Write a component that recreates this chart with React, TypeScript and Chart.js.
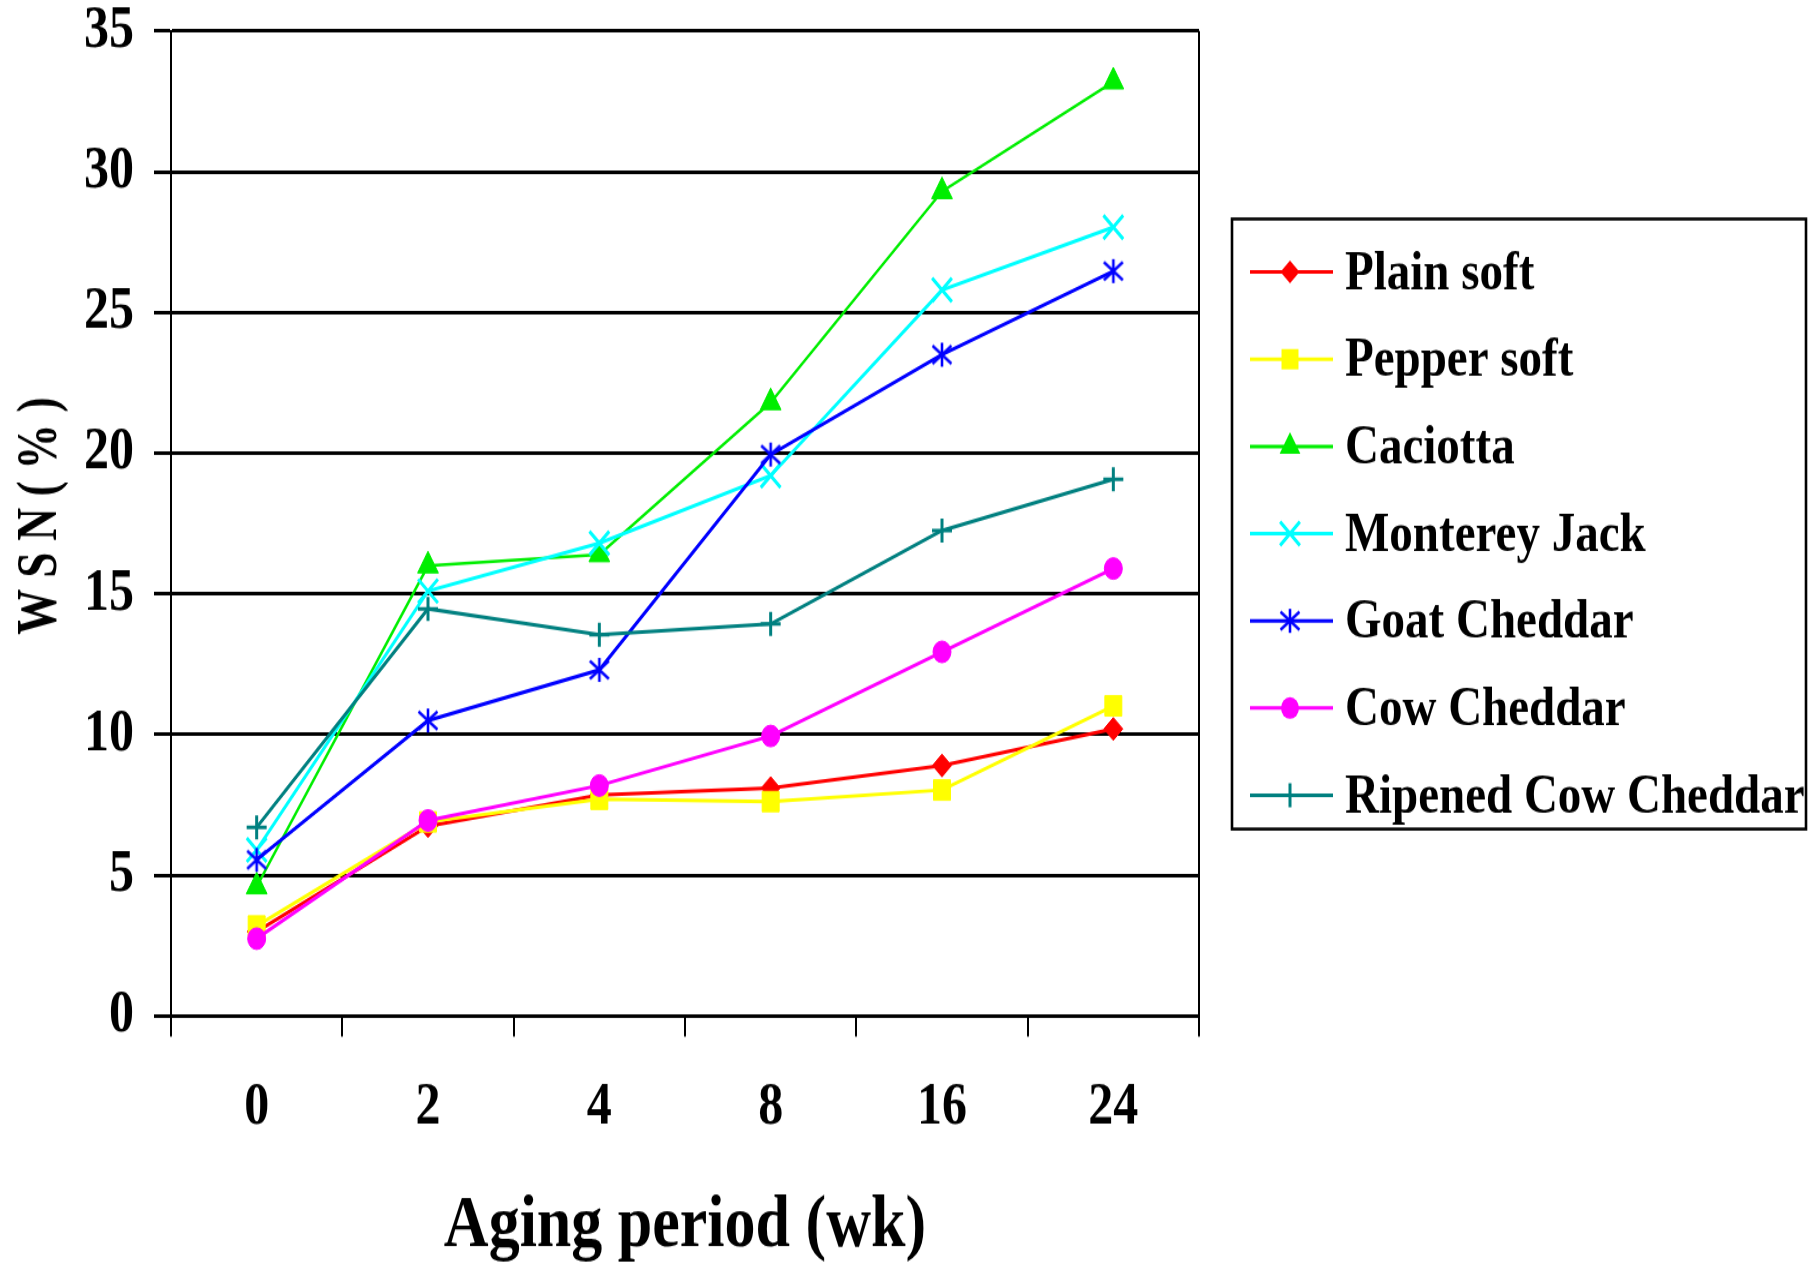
import React, { useEffect, useRef } from "react";
import { Chart, registerables } from "chart.js";

Chart.register(...registerables);

// ---------- data ----------
const WEEKS = ["0", "2", "4", "8", "16", "24"];
const SERIES_NAMES = [
  "Plain soft",
  "Pepper soft",
  "Caciotta",
  "Monterey Jack",
  "Goat Cheddar",
  "Cow Cheddar",
  "Ripened Cow Cheddar",
];
const PLAIN_SOFT = [3.0, 6.75, 7.85, 8.1, 8.9, 10.2];
const PEPPER_SOFT = [3.2, 6.9, 7.7, 7.62, 8.03, 11.02];
const CACIOTTA = [4.6, 16.0, 16.4, 21.8, 29.3, 33.2];
const MONTEREY_JACK = [5.9, 15.1, 16.8, 19.2, 25.8, 28.03];
const GOAT_CHEDDAR = [5.55, 10.5, 12.3, 19.95, 23.5, 26.47];
const COW_CHEDDAR = [2.75, 6.95, 8.19, 9.95, 12.94, 15.9];
const RIPENED_COW_CHEDDAR = [6.7, 14.47, 13.55, 13.93, 17.25, 19.07];
const SERIES_VALUES = [
  PLAIN_SOFT,
  PEPPER_SOFT,
  CACIOTTA,
  MONTEREY_JACK,
  GOAT_CHEDDAR,
  COW_CHEDDAR,
  RIPENED_COW_CHEDDAR,
];
const Y_TITLE = "W S N ( % )";
const X_TITLE = "Aging period (wk)";

// ---------- styles ----------
const COLORS = ["#FF0000", "#FFFF00", "#00EE00", "#00FFFF", "#0000FF", "#FF00FF", "#008080"];
const POINT_STYLES = ["rectRot", "rect", "triangle", "crossRot", "asterisk", "circle", "cross"];
const POINT_RADII = [9.5, 12, 12, 14, 10, 9, 10];
const POINT_BORDER = [1, 1, 1, 3, 1, 1, 3];
const LINE_WIDTHS = [3, 3, 2.5, 3, 3, 3, 3];

const FONT = '"Liberation Serif", "Times New Roman", serif';
const W = 1811;
const H_DISPLAY = 1264;
const H = 1053; // intrinsic height (canvas is stretched vertically like the reference)
const SY = H_DISPLAY / H;

function makeAsterisk(color: string): HTMLCanvasElement {
  const c = document.createElement("canvas");
  c.width = 22;
  c.height = 22;
  const g = c.getContext("2d")!;
  g.strokeStyle = color;
  g.lineWidth = 2.6;
  g.beginPath();
  g.moveTo(11, 1);
  g.lineTo(11, 21);
  g.moveTo(1.5, 3.5);
  g.lineTo(20.5, 18.5);
  g.moveTo(20.5, 3.5);
  g.lineTo(1.5, 18.5);
  g.stroke();
  return c;
}

function drawMarker(
  ctx: CanvasRenderingContext2D,
  style: any,
  x: number,
  y: number,
  r: number,
  color: string,
  bw: number
) {
  ctx.save();
  ctx.fillStyle = color;
  ctx.strokeStyle = color;
  ctx.lineWidth = bw;
  if (typeof style === "object") {
    ctx.drawImage(style, x - style.width / 2, y - style.height / 2);
    ctx.restore();
    return;
  }
  ctx.beginPath();
  const d = r * Math.SQRT1_2;
  switch (style) {
    case "circle":
      ctx.arc(x, y, r, 0, Math.PI * 2);
      ctx.fill();
      break;
    case "rect":
      ctx.rect(x - d, y - d, 2 * d, 2 * d);
      ctx.fill();
      break;
    case "rectRot":
      ctx.moveTo(x - r, y);
      ctx.lineTo(x, y - r);
      ctx.lineTo(x + r, y);
      ctx.lineTo(x, y + r);
      ctx.closePath();
      ctx.fill();
      break;
    case "triangle":
      ctx.moveTo(x, y - r);
      ctx.lineTo(x + r * 0.866, y + r * 0.5);
      ctx.lineTo(x - r * 0.866, y + r * 0.5);
      ctx.closePath();
      ctx.fill();
      break;
    case "cross":
      ctx.moveTo(x, y - r);
      ctx.lineTo(x, y + r);
      ctx.moveTo(x - r, y);
      ctx.lineTo(x + r, y);
      ctx.stroke();
      break;
    case "crossRot":
      ctx.moveTo(x - d, y - d);
      ctx.lineTo(x + d, y + d);
      ctx.moveTo(x + d, y - d);
      ctx.lineTo(x - d, y + d);
      ctx.stroke();
      break;
  }
  ctx.restore();
}

export default function App() {
  const canvasRef = useRef<HTMLCanvasElement | null>(null);

  useEffect(() => {
    const canvas = canvasRef.current;
    if (!canvas) return;

    const styles: any[] = POINT_STYLES.map((s, i) =>
      s === "asterisk" ? makeAsterisk(COLORS[i]) : s
    );

    const datasets = SERIES_NAMES.map((name, i) => ({
      label: name,
      data: SERIES_VALUES[i],
      borderColor: COLORS[i],
      backgroundColor: COLORS[i],
      borderWidth: LINE_WIDTHS[i],
      pointStyle: styles[i],
      pointRadius: POINT_RADII[i],
      pointHoverRadius: POINT_RADII[i],
      pointBorderWidth: POINT_BORDER[i],
      pointBackgroundColor: COLORS[i],
      pointBorderColor: COLORS[i],
      tension: 0,
      order: SERIES_NAMES.length - i,
      clip: false as any,
    }));

    const decor = {
      id: "decor",
      afterDraw(chart: any) {
        const ctx: CanvasRenderingContext2D = chart.ctx;
        const area = chart.chartArea;
        // right frame of plot area
        ctx.save();
        ctx.strokeStyle = "#000";
        ctx.lineWidth = 2;
        ctx.beginPath();
        ctx.moveTo(area.right, area.top);
        ctx.lineTo(area.right, area.bottom);
        ctx.stroke();
        ctx.restore();

        // y-axis title (condensed along its direction)
        ctx.save();
        ctx.translate(41, 516 / SY);
        ctx.rotate(-Math.PI / 2);
        ctx.font = `bold 58px ${FONT}`;
        const tw = ctx.measureText(Y_TITLE).width;
        ctx.scale(198 / tw, 1);
        ctx.fillStyle = "#000";
        ctx.textAlign = "center";
        ctx.textBaseline = "middle";
        ctx.fillText(Y_TITLE, 0, 0);
        ctx.restore();

        // legend
        const bx = 1232;
        const by = 219 / SY;
        const bw = 1806 - 1232;
        const bh = (829 - 219) / SY;
        ctx.save();
        ctx.strokeStyle = "#000";
        ctx.lineWidth = 2.6;
        ctx.strokeRect(bx, by, bw, bh);
        ctx.textAlign = "left";
        ctx.textBaseline = "middle";
        const rowStart = 272 / SY;
        const rowStep = 87.2 / SY;
        chart.data.datasets.forEach((ds: any, i: number) => {
          const y = rowStart + i * rowStep;
          ctx.strokeStyle = ds.borderColor;
          ctx.lineWidth = 3;
          ctx.beginPath();
          ctx.moveTo(1250, y);
          ctx.lineTo(1333, y);
          ctx.stroke();
          drawMarker(ctx, ds.pointStyle, 1290, y, ds.pointRadius, ds.borderColor, ds.pointBorderWidth);
          ctx.fillStyle = "#000";
          ctx.font = `bold 47px ${FONT}`;
          ctx.fillText(ds.label, 1345, y + 2);
        });
        ctx.restore();
      },
    };

    const chart = new Chart(canvas, {
      type: "line",
      data: { labels: WEEKS, datasets: datasets as any },
      options: {
        responsive: false,
        animation: false,
        devicePixelRatio: 1,
        layout: { padding: { top: 31 / SY, right: W - 1199, bottom: 0, left: 0 } },
        plugins: {
          legend: { display: false },
          title: { display: false },
          tooltip: { enabled: false },
        },
        scales: {
          x: {
            type: "category",
            offset: true,
            grid: {
              offset: true,
              drawOnChartArea: false,
              drawTicks: true,
              tickLength: 17,
              color: "#000",
              lineWidth: 2,
            },
            border: { display: true, color: "#000", width: 3 },
            ticks: {
              font: { family: FONT, size: 50, weight: "bold" },
              color: "#000",
              padding: 30,
              maxRotation: 0,
              autoSkip: false,
            },
            title: {
              display: true,
              text: X_TITLE,
              font: { family: FONT, size: 62, weight: "bold", lineHeight: 1 },
              color: "#000",
              padding: { top: 0, bottom: 0 },
            },
            afterFit(s: any) {
              s.height = H - 1016 / SY;
              s.paddingLeft = 0;
              s.paddingRight = 0;
            },
          },
          y: {
            min: 0,
            max: 35,
            ticks: {
              stepSize: 5,
              font: { family: FONT, size: 50, weight: "bold" },
              color: "#000",
              padding: 20,
            },
            grid: { color: "#000", lineWidth: 3, tickLength: 17, drawTicks: true },
            border: { display: true, color: "#000", width: 2 },
            afterFit(s: any) {
              s.width = 171;
              s.paddingTop = 0;
              s.paddingBottom = 0;
            },
          },
        },
      } as any,
      plugins: [decor],
    });

    return () => chart.destroy();
  }, []);

  return (
    <div style={{ position: "fixed", left: 0, top: 0, width: W, height: H_DISPLAY, background: "#fff" }}>
      <canvas
        ref={canvasRef}
        width={W}
        height={H}
        style={{ width: `${W}px`, height: `${H_DISPLAY}px`, display: "block" }}
      />
    </div>
  );
}
